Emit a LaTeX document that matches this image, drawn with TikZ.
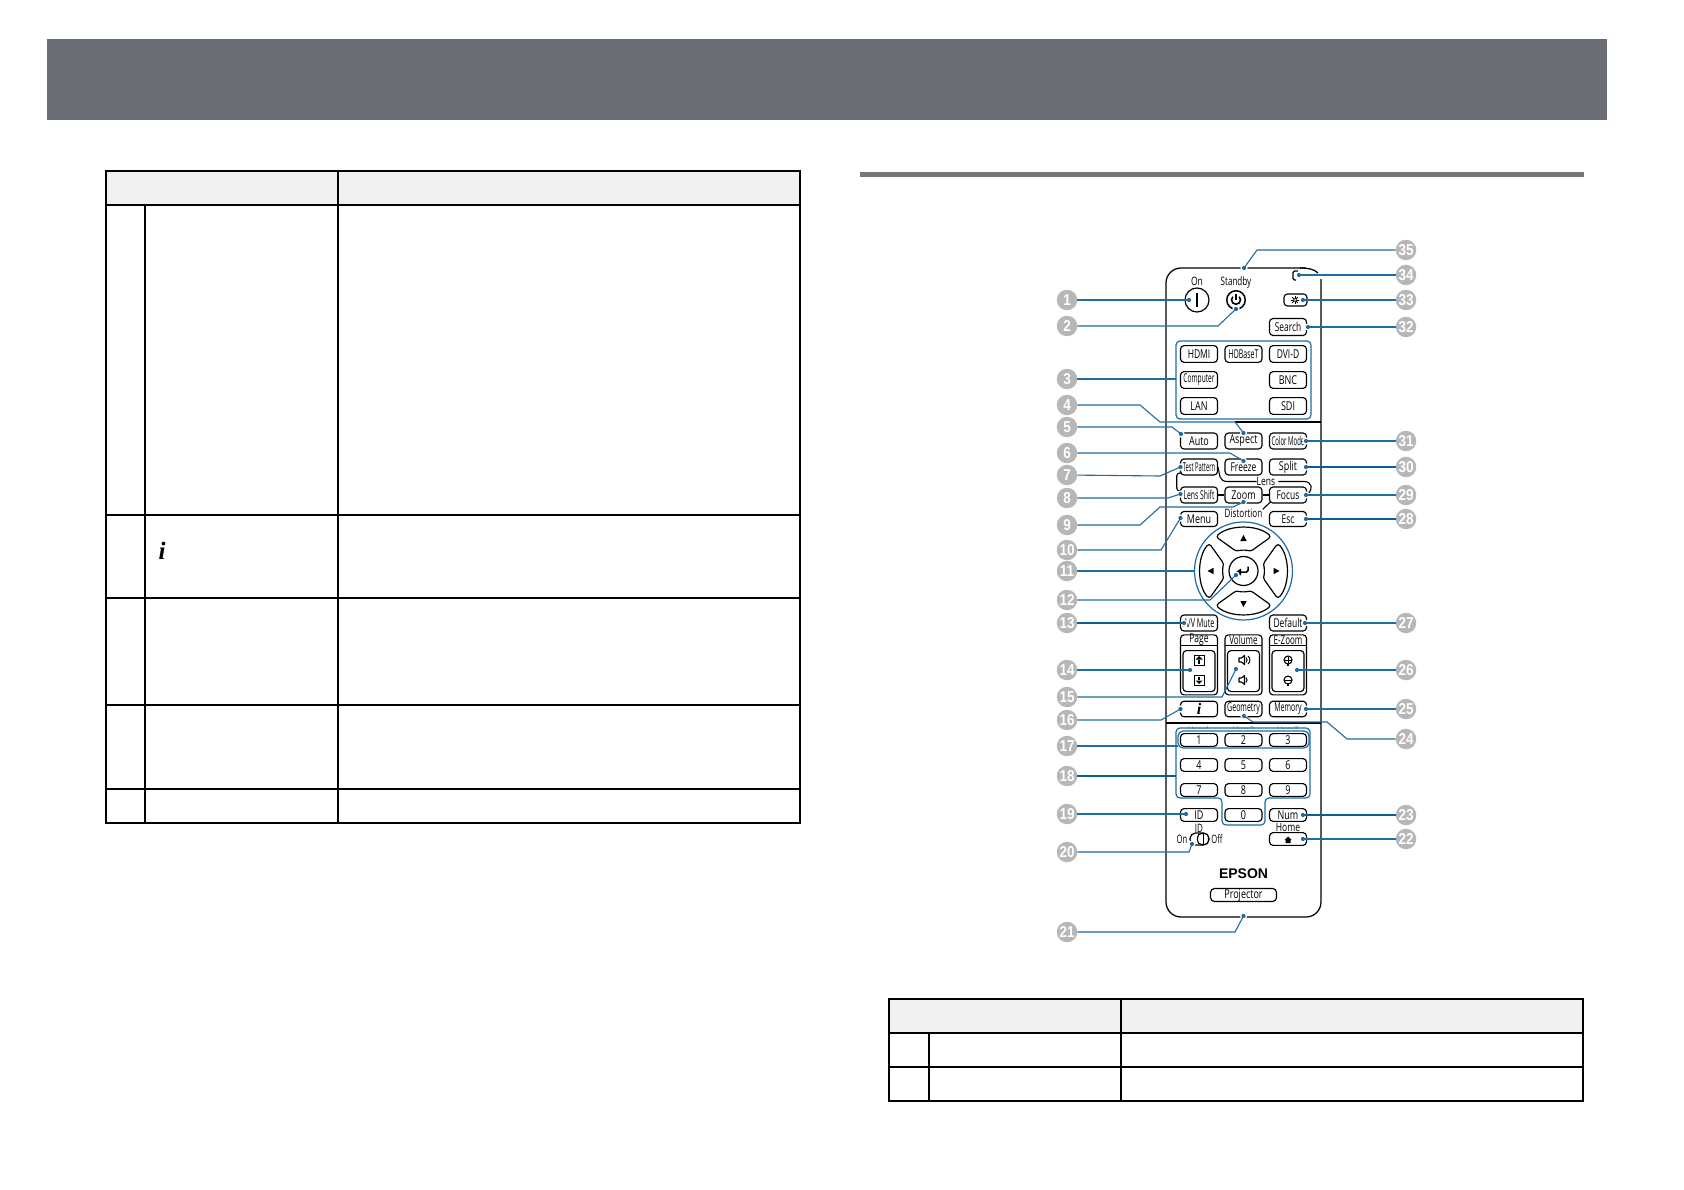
\documentclass[tikz,border=0pt]{standalone}
\usepackage{fontspec}
\usepackage{graphicx}
\setmainfont{Open Sans}
\newfontfamily\calloutfont{Liberation Sans}
\newfontfamily\serifi{Liberation Serif}
\definecolor{barcol}{HTML}{6B6D75}
\definecolor{headcol}{HTML}{F0F0F0}
\definecolor{rulecol}{HTML}{777777}
\definecolor{leadcol}{HTML}{1F6C9F}
\definecolor{leaddark}{HTML}{0F5C94}
\definecolor{callcol}{HTML}{B7B7B7}
\newcommand\nr[2]{\scalebox{#1}[1.22]{#2}}
\newcommand\callout[3]{\node[calloutnode] (c#1) at (#2,#3) {\scalebox{.9}[1.05]{#1}};}
\newcommand\dotat[3]{\coordinate (d#1) at (#2,#3); \fill[white] (d#1) circle (3.6);}
\begin{document}
\begin{tikzpicture}[x=1pt,y=-1pt,
  tline/.style={draw=black,line width=2pt},
  btn/.style={draw=black,fill=white,line width=1.15pt,rounded corners=3.5pt,minimum width=37pt,minimum height=16pt,inner sep=0pt,font=\fontsize{10}{10}\selectfont},
  numbtn/.style={btn,minimum height=12.7pt},
  lbl/.style={inner sep=0pt,font=\fontsize{9.5}{10}\selectfont},
  calloutnode/.style={circle,fill=callcol,text=white,minimum size=20.5pt,inner sep=0pt,font=\calloutfont\bfseries\fontsize{15}{15}\selectfont},
  lead/.style={draw=leadcol,line width=1.1pt},
  leadb/.style={draw=leaddark,line width=1.7pt},
  blk/.style={draw=black,line width=1.1pt},
  bluebox/.style={draw=leadcol,line width=1.2pt,rounded corners=4pt},
  triang/.style={fill=black}]
\useasboundingbox (0,0) rectangle (1684,1190);
\fill[white] (0,0) rectangle (1684,1190);
% header bar and section rule
\fill[barcol] (47,39) rectangle (1607,120);
\fill[rulecol] (860,172) rectangle (1584,177);
% left table
\fill[headcol] (106,171) rectangle (800,205);
\draw[tline] (106,171) rectangle (800,823);
\foreach \yy in {205,515,598,705,789} {\draw[tline] (106,\yy) -- (800,\yy);}
\draw[tline] (338,171) -- (338,823);
\draw[tline] (145,205) -- (145,823);
\node[inner sep=0pt,font=\serifi\bfseries\itshape\fontsize{25}{25}\selectfont] (ileft) at (162,551) {i};
% right table
\fill[headcol] (889,999) rectangle (1583,1033);
\draw[tline] (889,999) rectangle (1583,1101);
\draw[tline] (889,1033) -- (1583,1033);
\draw[tline] (889,1067) -- (1583,1067);
\draw[tline] (1121,999) -- (1121,1101);
\draw[tline] (929,1033) -- (929,1101);
% remote body
\draw[line width=1.25pt,rounded corners=15pt] (1321,279) -- (1321,917) -- (1166,917) -- (1166,268) -- (1318,268);
\fill[white] (1306,262) rectangle (1326,279);
\draw[line width=1.25pt] (1300,268) .. controls (1308,268) and (1314,269) .. (1318,273);
\draw[line width=1.4pt] (1235,422) -- (1321,422);
\draw[line width=1.4pt] (1166,723) -- (1321,723);
% top group
\node[lbl] (lon) at (1197,281) {\nr{.9}{On}};
\node[lbl] (lstandby) at (1236,282) {\nr{.85}{Standby}};
\node[draw,circle,line width=1.2pt,minimum size=24pt,inner sep=0pt] (bon) at (1197,300) {};
\draw[line width=1.4pt] (1197,293) -- (1197,307);
\node[draw,circle,line width=1.5pt,minimum size=18.5pt,inner sep=0pt] (bstandby) at (1236,300) {};
\draw[line width=1.6pt] (1239.2,296.6) arc[start angle=-45,end angle=225,radius=4.5];
\draw[line width=1.6pt] (1236,294) -- (1236,300);
\draw[line width=1.3pt,rounded corners=1.5pt] (1298,271) -- (1293,271) -- (1293,280) -- (1296,280);
\node[btn,minimum width=23pt,minimum height=12pt] (blight) at (1295.5,300) {};
\foreach \aa in {0,45,...,135} {
  \draw[line width=.8pt] (1295,300) ++(\aa:4) -- ++(\aa+180:8);
}
\fill[white] (1295,300) circle (1.6);
\draw[line width=.5pt] (1295,300) circle (1.6);
\node[btn,minimum height=17pt] (bsearch) at (1288,327) {\nr{.84}{Search}};
\node[btn,minimum height=16.7pt] (bhdmi) at (1199,354) {\nr{.85}{HDMI}};
\node[btn,minimum height=16.7pt] (bhdb) at (1243.5,354) {\nr{.7}{HDBaseT}};
\node[btn,minimum height=16.7pt] (bdvi) at (1288,354) {\nr{.85}{DVI-D}};
\node[btn,minimum height=16.7pt] (bcomp) at (1199,380) {\nr{.66}{Computer}};
\node[btn,minimum height=16.7pt] (bbnc) at (1288,380) {\nr{.9}{BNC}};
\node[btn,minimum height=16.7pt] (blan) at (1199,406) {\nr{.9}{LAN}};
\node[btn,minimum height=16.7pt] (bsdi) at (1288,406) {\nr{.9}{SDI}};
\draw[bluebox] (1176,341) rectangle (1311,419);
\node[btn] (bauto) at (1199,441) {\nr{.9}{Auto}};
\node[btn] (baspect) at (1243.5,441) {\nr{.9}{Aspect}};
\node[btn] (bcolor) at (1288,441) {\nr{.6}{Color Mode}};
\node[btn] (btest) at (1199,467) {\nr{.58}{Test Pattern}};
\node[btn] (bfreeze) at (1243.5,467) {\nr{.85}{Freeze}};
\node[btn] (bsplit) at (1288,467) {\nr{.9}{Split}};
\node[btn] (bshift) at (1199,495) {\nr{.68}{Lens Shift}};
\node[btn] (bzoom) at (1243.5,495) {\nr{.9}{Zoom}};
\node[btn] (bfocus) at (1288,495) {\nr{.85}{Focus}};
\node[lbl] (llens) at (1266,481.5) {\nr{.9}{Lens}};
\node[lbl] (ldist) at (1243.5,513.5) {\nr{.85}{Distortion}};
\draw[blk] (btest.east) .. controls (1220,476) and (1219,481.5) .. (1228,481.5) -- (llens.west);
\draw[blk,shorten <=3pt] (llens.east) -- (1304,481.5) .. controls (1312,481.5) and (1314,490) .. (1307,494);
\draw[blk,rounded corners=3pt] (1181,473) -- (1176.7,473) -- (1176.7,491) -- (1181,491);
\draw[blk] (bshift.east) -- (bzoom.west);
\draw[blk] (bzoom.east) -- (bfocus.west);
\draw[blk] (1262.7,509.3) -- (1271,501.5);
\node[btn,minimum height=15pt] (bmenu) at (1199,519) {\nr{.9}{Menu}};
\node[btn,minimum height=15pt] (besc) at (1288,519) {\nr{.85}{Esc}};
% keypad
\coordinate (kc) at (1243.5,571);
\draw[leadcol,line width=1.2pt] (kc) circle (49);
\foreach \rr in {0,90,180,270} {
  \begin{scope}[shift={(kc)},rotate=\rr]
    \draw[line width=1.2pt,rounded corners=3pt] (-27.7,-34.3) .. controls (-14,-46.5) and (14,-46.5) .. (27.7,-34.3) -- (6.7,-19.3) .. controls (3,-21) and (-3,-21) .. (-6.7,-19.3) -- cycle;
    \fill[triang] (-3.2,-30) -- (3.2,-30) -- (0,-36) -- cycle;
  \end{scope}
}
\node[draw,circle,line width=1.2pt,fill=white,minimum size=29pt,inner sep=0pt] (benter) at (kc) {};
\draw[line width=1.5pt,rounded corners=1.5pt] (1248,566.5) -- (1248,572) -- (1240,572);
\fill (1241,568.5) -- (1241,575.5) -- (1236,572) -- cycle;
% lower group
\node[btn] (bmute) at (1199,623) {\nr{.72}{A/V Mute}};
\node[btn] (bdefault) at (1288,623) {\nr{.85}{Default}};
\foreach \nn/\xx/\lab/\sc in {gp/1199/Page/.85,gv/1243.5/Volume/.8,ge/1288/E-Zoom/.8} {
  \node[btn,minimum height=60pt,anchor=north] (\nn o) at (\xx,634.3) {};
  \draw[blk] (\xx-18.5,645.5) -- (\xx+18.5,645.5);
  \node[inner sep=0pt,font=\fontsize{10}{10}\selectfont] (\nn t) at (\xx,640) {\nr{\sc}{\lab}};
  \node[btn,minimum width=32pt,minimum height=41pt,anchor=north] (\nn i) at (\xx,650) {};
}
% page icons
\foreach \yy/\dd in {660/-1,680/1} {
  \draw[line width=.8pt] (1194,\yy-5) rectangle (1204,\yy+5);
  \fill (1195.5,\yy+\dd*.5) -- (1202.5,\yy+\dd*.5) -- (1199,\yy+\dd*4) -- cycle;
  \draw[line width=1.4pt] (1199,\yy) -- (1199,\yy-\dd*3.5);
}
% volume icons
\foreach \yy in {660,680} {
  \draw[line width=1.1pt,line join=round] (1239,\yy-2) -- (1241.5,\yy-2) -- (1244.5,\yy-4.5) -- (1244.5,\yy+4.5) -- (1241.5,\yy+2) -- (1239,\yy+2) -- cycle;
  \draw[line width=1pt] (1246,\yy-2.5) .. controls (1247.5,\yy-1) and (1247.5,\yy+1) .. (1246,\yy+2.5);
}
\draw[line width=1pt] (1248,660-4) .. controls (1250.5,660-2) and (1250.5,660+2) .. (1248,660+4);
% e-zoom icons
\foreach \yy in {660,680} {
  \draw[line width=1.1pt] (1288,\yy) circle (4);
  \draw[line width=1pt] (1285,\yy) -- (1291,\yy);
  \draw[line width=1.4pt] (1288,\yy+4) -- (1288,\yy+6);
}
\draw[line width=1pt] (1288,657) -- (1288,663);
\node[btn,minimum height=15.5pt] (binfo) at (1199,709) {};
\node[inner sep=0pt,font=\serifi\bfseries\itshape\fontsize{16}{16}\selectfont] (linfo) at (1199,709) {i};
\node[btn,minimum height=15.5pt] (bgeo) at (1243.5,709) {\nr{.7}{Geometry}};
\node[btn,minimum height=15.5pt] (bmem) at (1288,709) {\nr{.7}{Memory}};
% clipped User labels
\begin{scope}
  \clip (1166,724) rectangle (1321,728.5);
  \foreach \xx/\lab in {1199/User1,1243.5/User2,1288/User3} {
    \node[inner sep=0pt,font=\fontsize{8}{8}\selectfont,text=gray] at (\xx,730) {\lab};
  }
\end{scope}
% number keys
\foreach \nn/\xx/\yy in {1/1199/740,2/1243.5/740,3/1288/740,4/1199/765,5/1243.5/765,6/1288/765,7/1199/790,8/1243.5/790,9/1288/790,0/1243.5/815} {
  \node[numbtn] (k\nn) at (\xx,\yy) {\nr{.9}{\nn}};
}
\node[numbtn] (bid) at (1199,815) {\nr{.9}{ID}};
\node[numbtn] (bnum) at (1288,815) {\nr{.9}{Num}};
\node[numbtn] (bhome) at (1288,839) {};
\fill (1288,836.5) -- (1291.5,840) -- (1290.5,840) -- (1290.5,843) -- (1285.5,843) -- (1285.5,840) -- (1284.5,840) -- cycle;
\node[lbl] (lhome) at (1288,827) {\nr{.9}{Home}};
\node[lbl] (lid) at (1199,828) {\nr{.85}{ID}};
\node[lbl] (lonb) at (1182,839) {\nr{.8}{On}};
\node[lbl] (loff) at (1217,839) {\nr{.8}{Off}};
\draw[line width=1.2pt,rounded corners=5.5pt] (1190,845) -- (1190,833) -- (1209,833) -- (1209,845) -- cycle;
\draw[line width=1.1pt,rounded corners=4pt,fill=white] (1197.5,833.5) rectangle (1208.5,844.5);
\draw[line width=1pt] (1203,833.5) -- (1203,844.5);
\node[inner sep=0pt,font=\calloutfont\bfseries\fontsize{14}{14}\selectfont] (lepson) at (1243.5,874) {EPSON};
\node[btn,minimum width=66pt,minimum height=13pt,rounded corners=4pt] (bproj) at (1243.5,895) {\nr{.9}{Projector}};
% blue group outlines
\draw[bluebox] (1176,728) -- (1310,728) -- (1310,798) -- (1265,798) -- (1265,825) -- (1222,825) -- (1222,798) -- (1176,798) -- cycle;
\draw[bluebox,rounded corners=5pt] (1178,731) rectangle (1309,748);
% callouts
\foreach \nn/\yy in {1/300,2/326,3/379,4/405,5/427,6/453,7/475,8/498,9/525,10/550,11/571,12/600,13/623,14/670,15/697,16/720,17/746,18/776,19/814,20/852,21/932} {
  \callout{\nn}{1067}{\yy}
}
\foreach \nn/\yy in {35/250,34/275,33/300,32/327,31/441,30/467,29/495,28/519,27/623,26/670,25/709,24/739,23/815,22/839} {
  \callout{\nn}{1406}{\yy}
}
% leader end points
\dotat{1}{1189}{300}
\dotat{2}{1236}{309}
\coordinate (d3) at (1176,379);
\dotat{4}{1243.5}{433}
\dotat{5}{1181}{434}
\dotat{6}{1243.5}{461}
\dotat{7}{1180.5}{467}
\dotat{8}{1180.5}{494}
\dotat{9}{1243.5}{502}
\dotat{10}{1180.5}{518}
\coordinate (d11) at (1195,571);
\dotat{12}{1236}{575}
\dotat{13}{1184}{623}
\dotat{14}{1190}{670}
\dotat{15}{1236}{669}
\dotat{16}{1180.5}{709}
\coordinate (d17) at (1178,746);
\coordinate (d18) at (1176,776);
\dotat{19}{1186}{814}
\dotat{20}{1192}{844}
\dotat{21}{1243.5}{916}
\dotat{22}{1303}{839}
\dotat{23}{1303}{815}
\dotat{24}{1244}{716}
\dotat{25}{1306}{709}
\dotat{26}{1297}{670}
\dotat{27}{1305}{623}
\dotat{28}{1306}{519}
\dotat{29}{1306}{495}
\dotat{30}{1306}{467}
\dotat{31}{1306}{441}
\dotat{32}{1308}{327}
\dotat{33}{1303}{300}
\coordinate (d34) at (1299,275);
\dotat{35}{1244}{268}
% leaders
\draw[lead] (c1) -- (d1);
\draw[lead] (c2) -- (1218,326) -- (d2);
\draw[lead] (c3) -- (d3);
\draw[lead] (c4) -- (1140,405) -- (1160,422) -- (1235,422) -- (d4);
\draw[lead] (c5) -- (1172,427) -- (d5);
\draw[lead] (c6) -- (1230,453) -- (d6);
\draw[lead] (c7) -- (1160,476) -- (d7);
\draw[lead] (c8) -- (1168,498) -- (d8);
\draw[lead] (c9) -- (1140,525) -- (1160,507) -- (1233,507) -- (d9);
\draw[lead] (c10) -- (1161,550) -- (d10);
\draw[lead] (c11) -- (d11);
\draw[lead] (c12) -- (1210,600) -- (d12);
\draw[leadb] (c13) -- (d13);
\draw[lead] (c14) -- (d14);
\draw[lead] (c15) -- (1222,697) -- (d15);
\draw[lead] (c16) -- (1161,720) -- (d16);
\draw[lead] (c17) -- (d17);
\draw[leadb] (c18) -- (d18);
\draw[lead] (c19) -- (d19);
\draw[lead] (c20) -- (1189,852) -- (d20);
\draw[lead] (c21) -- (1235,932) -- (d21);
\draw[lead] (c22) -- (d22);
\draw[leadb] (c23) -- (d23);
\draw[lead] (c24) -- (1347,739) -- (1327,722) -- (1253,722) -- (d24);
\draw[lead] (c25) -- (d25);
\draw[lead] (c26) -- (d26);
\draw[lead] (c27) -- (d27);
\draw[leadb] (c28) -- (d28);
\draw[lead] (c29) -- (d29);
\draw[leadb] (c30) -- (d30);
\draw[lead] (c31) -- (d31);
\draw[lead] (c32) -- (d32);
\draw[lead] (c33) -- (d33);
\draw[lead] (c34) -- (d34);
\draw[lead] (c35) -- (1257,250) -- (d35);
\foreach \nn in {1,2,4,5,6,7,8,9,10,12,13,14,15,16,19,20,21,22,23,24,25,26,27,28,29,30,31,32,33,34,35} {
  \fill[leadcol] (d\nn) circle (2.1);
}
\end{tikzpicture}
\end{document}
